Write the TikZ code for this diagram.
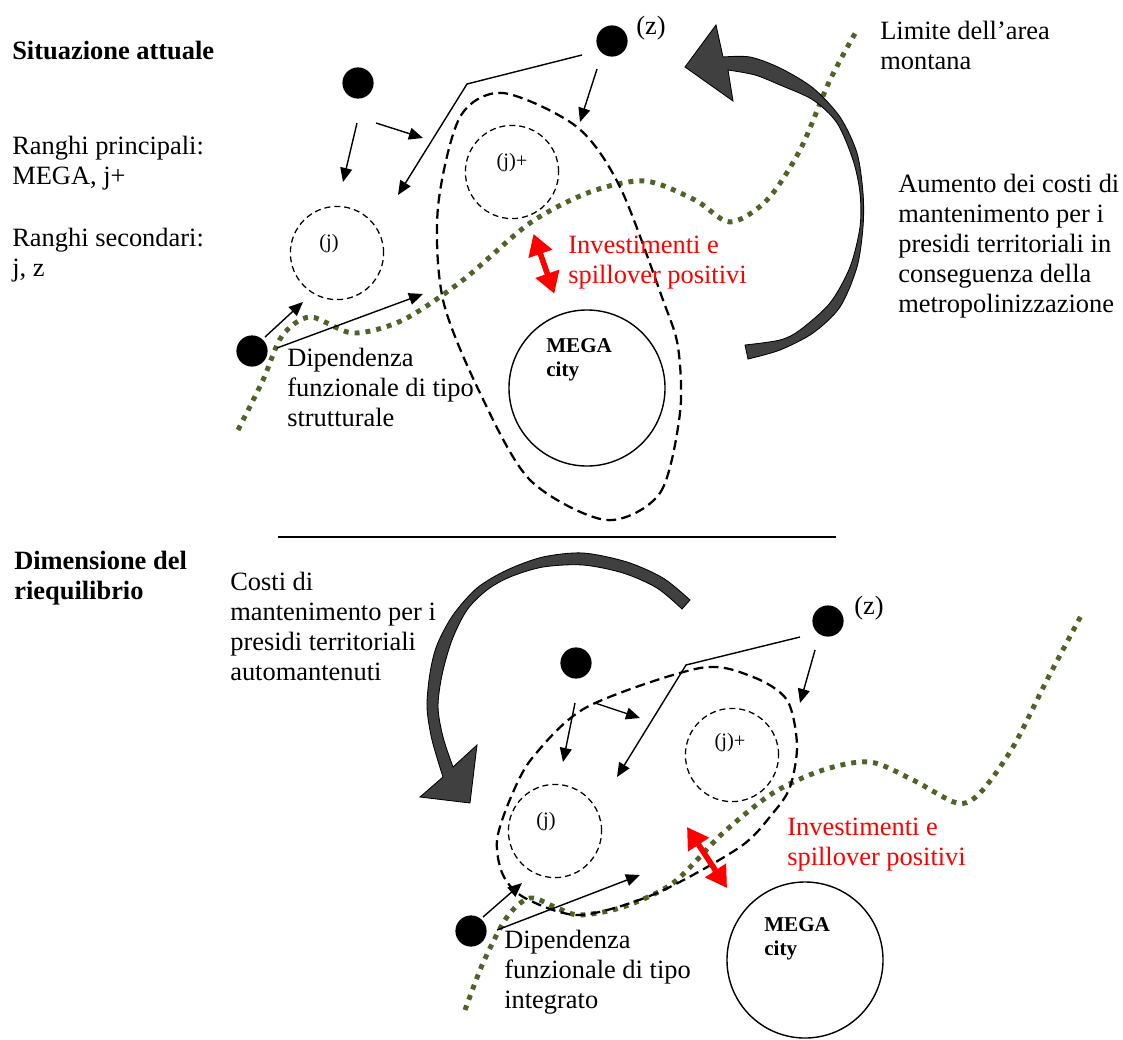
\documentclass[tikz,border=0pt]{standalone}
\usepackage{fontspec}
\setmainfont{Liberation Serif}
\usetikzlibrary{arrows.meta,positioning}
\definecolor{limitgreen}{RGB}{79,98,40}
\definecolor{arcgray}{RGB}{64,64,64}
\tikzset{
	% standard arrow tip
	>={Triangle[length=10pt,width=8.5pt]},
	% text label style
	lbl/.style={
		inner sep=0pt,
		anchor=north west,
		align=left,
		font=\fontsize{18.8}{21.4}\selectfont
	},
	redlbl/.style={lbl, text=red},
	ttl/.style={lbl, font=\bfseries\fontsize{18.8}{21.4}\selectfont},
	% small ring label
	small/.style={inner sep=0pt, font=\fontsize{14.5}{16}\selectfont},
	% settlement
	blob/.style={circle, fill=black, inner sep=0pt, minimum size=0.78cm},
	% dashed rank ring
	ring/.style={
		circle, draw, inner sep=0pt,
		line width=0.9pt, dash pattern=on 4.3pt off 2.8pt,
		minimum size=2.33cm
	},
	% metropolitan core
	city/.style={circle, draw, line width=1pt, inner sep=0pt, minimum size=3.9cm},
	citytxt/.style={lbl, font=\bfseries\fontsize{15}{17}\selectfont},
	% arrow style
	arrow/.style={->, line width=1pt},
	% dashed influence area
	area/.style={line width=1.6pt, dash pattern=on 7pt off 3.8pt},
	% mountain limit
	limit/.style={draw=limitgreen, line width=3.5pt, dash pattern=on 3.5pt off 4.3pt},
	% big curved arrow
	bigarc/.style={fill=arcgray, draw=black, line width=0.6pt},
	% spillover arrow
	spill/.style={
		draw=red, line width=4pt,
		{Triangle[length=15pt,width=17pt]}-{Triangle[length=15pt,width=17pt]}
	}
}
\begin{document}
\begin{tikzpicture}[x=0.025cm, y=-0.025cm]
	\useasboundingbox (0,0) rectangle (1123,1039);

	% ---- situazione attuale ----
	\node[ttl] (sit) at (12,41) {Situazione attuale};
	\node[lbl] (rprin) at (12,136) {Ranghi principali:\\MEGA, j+};
	\node[lbl] (rsec) at (12,228) {Ranghi secondari:\\j, z};
	\node[lbl] (lim) at (880,21) {Limite dell'area\\montana};
	\node[lbl] (aum) at (898,174)
		{Aumento dei costi di\\mantenimento per i\\presidi territoriali in\\conseguenza della\\metropolinizzazione};

	\draw[limit] plot[smooth] coordinates {(238,430) (263,380) (282,336) (310,317) (353,333)
		(403,320) (463,280) (530,223) (590,192) (645,181) (695,200) (730,222) (767,200)
		(800,150) (830,80) (857,30)};

	\draw[area] plot[smooth cycle] coordinates {(606,520) (660,493) (680,413) (678,347)
		(663,300) (620,187) (577,127) (503,93) (460,117) (438,207) (443,300) (480,393)
		(530,480)};

	\node[blob] (d1) at (358,83) {};
	\node[blob] (z1) at (612,41) {};
	\node[lbl, anchor=west] (z1t) at (636,28) {(z)};
	\node[blob] (d2) at (252,351) {};
	\node[ring] (rj) at (337,253) {};
	\node[small] (rjt) at ([shift={(-8,-9)}]rj.center) {(j)};
	\node[ring] (rjp) at (512,172) {};
	\node[small] (rjpt) at ([shift={(0,-9)}]rjp.center) {(j)+};
	\node[city] (c1) at (587,388) {};
	\node[citytxt] (c1t) at (546,338) {MEGA\\city};
	\node[lbl] (dip) at (287,348) {Dipendenza\\funzionale di tipo\\strutturale};
	\node[redlbl] (inv) at (568,236) {Investimenti e\\spillover positivi};

	\coordinate (e1) at (343,182);
	\coordinate (e2) at (423,138);
	\coordinate (k1) at (467,84);
	\coordinate (e3) at (398,195);
	\coordinate (e4) at (580,122);
	\coordinate (e5) at (303,302);
	\coordinate (e6) at (423,294);
	\draw[arrow] ([shift={(-1,40)}]d1.center) -- (e1);
	\draw[arrow] ([shift={(18,40)}]d1.center) -- (e2);
	\draw[arrow] ([shift={(-30,14)}]z1.center) -- (k1) -- (e3);
	\draw[arrow] ([shift={(-15,28)}]z1.center) -- (e4);
	\draw[arrow] ([shift={(13,-14)}]d2.center) -- (e5);
	\draw[arrow] ([shift={(25,-3)}]d2.center) -- (e6);
	\draw[spill, shorten <=13pt, shorten >=15pt] (rjp) -- (c1);

	\draw[bigarc] plot[smooth] coordinates {(723,57) (750,57) (780,68) (813,88) (840,117)
		(857,153) (863,193) (863,227) (857,267) (840,307) (813,333) (780,350) (748,359)}
		-- plot[smooth] coordinates {(745,345) (780,340) (800,330) (830,303) (850,267)
		(860,227) (860,193) (853,160) (837,123) (813,100) (780,85) (755,75) (728,70)}
		-- (733,101) -- (685,67) -- (716,25) -- cycle;

	\draw[line width=0.9pt] (278,537) -- (836,537);

	% ---- dimensione del riequilibrio ----
	\node[ttl] (dim) at (14,551) {Dimensione del\\riequilibrio};
	\node[lbl] (cost) at (230,572)
		{Costi di\\mantenimento per i\\presidi territoriali\\automantenuti};

	\draw[limit] plot[smooth] coordinates {(465,1010) (483,963) (507,917) (530,898) (557,908)
		(580,915) (623,907) (673,883) (723,833) (773,793) (823,770) (870,762) (913,780)
		(957,803) (980,793) (1013,747) (1047,680) (1083,612)};

	\draw[area] plot[smooth cycle] coordinates {(700,668) (753,677) (787,700) (797,745)
		(790,787) (773,813) (740,847) (657,893) (580,915) (525,898) (503,875) (497,840)
		(511,797) (533,757) (587,707)};

	\node[blob] (d3) at (576,663) {};
	\node[blob] (z2) at (828,621) {};
	\node[lbl, anchor=west] (z2t) at (854,608) {(z)};
	\node[blob] (d4) at (471,931) {};
	\node[ring] (rj2) at (555,831) {};
	\node[small] (rj2t) at ([shift={(-9,-9)}]rj2.center) {(j)};
	\node[ring] (rjp2) at (732,755) {};
	\node[small] (rjp2t) at ([shift={(-2,-12)}]rjp2.center) {(j)+};
	\node[city] (c2) at (805,960) {};
	\node[citytxt] (c2t) at (764,917) {MEGA\\city};
	\node[lbl] (dip2) at (504,930) {Dipendenza\\funzionale di tipo\\integrato};
	\node[redlbl] (inv2) at (787,818) {Investimenti e\\spillover positivi};

	\coordinate (f1) at (563,762);
	\coordinate (f2) at (640,718);
	\coordinate (k2) at (686,665);
	\coordinate (f3) at (617,777);
	\coordinate (f4) at (800,703);
	\coordinate (f5) at (522,883);
	\coordinate (f6) at (640,875);
	\coordinate (s1) at (687,827);
	\coordinate (s2) at (727,888);
	\draw[arrow] ([shift={(-1,40)}]d3.center) -- (f1);
	\draw[arrow] ([shift={(19,40)}]d3.center) -- (f2);
	\draw[arrow] ([shift={(-28,16)}]z2.center) -- (k2) -- (f3);
	\draw[arrow] ([shift={(-13,29)}]z2.center) -- (f4);
	\draw[arrow] ([shift={(12,-14)}]d4.center) -- (f5);
	\draw[arrow] ([shift={(26,-1)}]d4.center) -- (f6);
	\draw[spill] (s1) -- (s2);

	\draw[bigarc] plot[smooth] coordinates {(690,600) (663,578) (627,562) (583,553) (543,557)
		(507,570) (477,588) (453,615) (437,645) (430,673) (427,707) (432,740) (443,777)}
		-- (420,797) -- (470,803) -- (477,745)
		-- plot[smooth] coordinates {(453,767) (443,737) (438,707) (442,675) (452,640)
		(467,610) (487,590) (510,577) (543,567) (583,565) (623,573) (657,588) (682,609)}
		-- cycle;
\end{tikzpicture}
\end{document}
